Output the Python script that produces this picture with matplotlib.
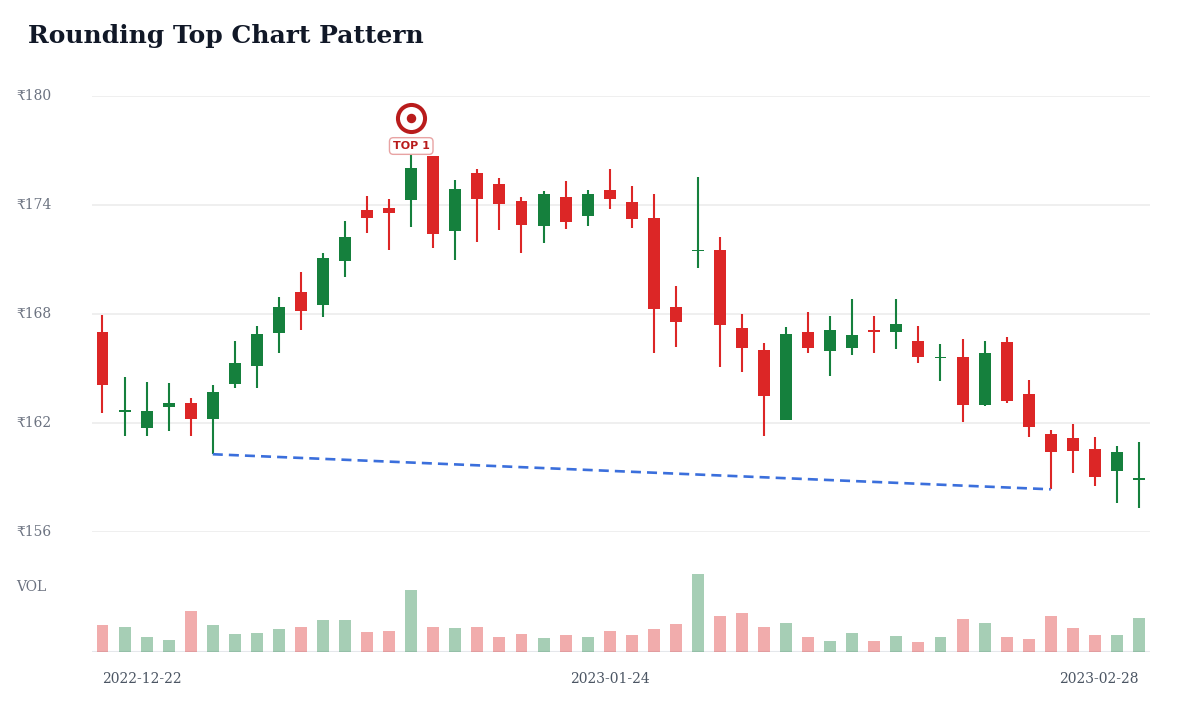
import numpy as np
import pandas as pd
import matplotlib
matplotlib.use("Agg")
import matplotlib.pyplot as plt

# OHLC, one entry per trading day
opens = [167.0, 162.6, 161.7, 162.87, 163.1, 162.22, 164.13, 165.12, 166.97, 169.23,
         168.5, 170.94, 173.74, 173.85, 174.28, 176.72, 172.59, 175.78, 175.14, 174.22,
         172.86, 174.42, 173.38, 174.81, 174.17, 173.3, 168.41, 171.45, 171.52, 167.25,
         166.02, 162.17, 167.01, 165.98, 166.11, 167.05, 167.03, 166.52, 165.56, 165.62,
         162.97, 166.44, 163.58, 161.4, 161.16, 160.57, 159.34, 158.85]
closes = [164.1, 162.65, 162.66, 163.1, 162.22, 163.69, 165.29, 166.92, 168.39, 168.19,
          171.07, 172.22, 173.27, 173.56, 176.02, 172.41, 174.86, 174.33, 174.06, 172.9,
          174.62, 173.07, 174.6, 174.33, 173.25, 168.28, 167.58, 171.5, 167.38, 166.15,
          163.49, 166.88, 166.15, 167.1, 166.85, 167.0, 167.43, 165.64, 165.6, 162.99,
          165.87, 163.2, 161.8, 160.42, 160.48, 159.01, 160.39, 158.9]
highs = [167.93, 164.52, 164.28, 164.22, 163.4, 164.1, 166.52, 167.34, 168.95, 170.31,
         171.38, 173.12, 174.48, 174.33, 176.75, 176.72, 175.38, 175.97, 175.47, 174.46,
         174.75, 175.3, 174.81, 176.0, 175.05, 174.59, 169.56, 175.54, 172.22, 167.98,
         166.39, 167.3, 168.09, 167.89, 168.81, 167.89, 168.81, 167.36, 166.33, 166.61,
         166.52, 166.72, 164.37, 161.62, 161.95, 161.21, 160.74, 160.98]
lows = [162.54, 161.29, 161.29, 161.55, 161.29, 160.28, 163.91, 163.91, 165.87, 167.12,
        167.82, 170.06, 172.44, 171.52, 172.81, 171.62, 170.96, 171.95, 172.61, 171.38,
        171.89, 172.66, 172.86, 173.8, 172.75, 165.84, 166.2, 170.55, 165.1, 164.83,
        161.29, 162.17, 165.84, 164.61, 165.75, 165.84, 166.08, 165.32, 164.33, 162.04,
        162.92, 163.12, 161.25, 158.35, 159.23, 158.55, 157.58, 157.31]
volumes = [800, 750, 440, 360, 1230, 810, 540, 570, 690, 760,
           960, 960, 600, 630, 1860, 760, 710, 740, 450, 530,
           420, 520, 440, 620, 510, 690, 830, 2340, 1080, 1180,
           740, 870, 450, 330, 560, 340, 470, 310, 460, 980,
           870, 460, 390, 1070, 720, 500, 510, 1020]

# trading days (Republic Day holiday skipped)
dates = [d for d in pd.bdate_range("2022-12-22", "2023-02-28") if d != pd.Timestamp("2023-01-26")]

y_ticks = [156, 162, 168, 174, 180]
neckline_idx = [5, 43]
top_idx = 14

RED = "#dc2626"
GREEN = "#15803d"
GRID = "#eeeeee"
TXT = "#6b7280"
SERIF = ["DejaVu Serif", "DejaVu Sans"]

n = len(opens)
x = np.arange(n)
o = np.array(opens)
c = np.array(closes)
up = c >= o
colors = [GREEN if u else RED for u in up]

fig = plt.figure(figsize=(12, 7.2), dpi=100)
ax = fig.add_axes([92 / 1200, 1 - 532 / 720, 1058 / 1200, 436 / 720])
axv = fig.add_axes([92 / 1200, 1 - 652 / 720, 1058 / 1200, 87 / 720])

xlim = (-0.476, 47.5)
ax.set_xlim(*xlim)
ax.set_ylim(156, 180)

# price panel
for t in y_ticks:
    ax.axhline(t, color=GRID, lw=1.3, zorder=0)
ax.vlines(x, lows, highs, colors=colors, lw=1.5, zorder=2)
body_lo = np.minimum(o, c)
body_h = np.maximum(np.abs(c - o), 0.1)
ax.bar(x, body_h, bottom=body_lo, width=0.54, color=colors, zorder=3)

# neckline
ax.plot([x[neckline_idx[0]], x[neckline_idx[1]]],
        [lows[neckline_idx[0]], lows[neckline_idx[1]]],
        color="#3b6fdc", lw=1.9, linestyle=(0, (3.8, 2.3)), zorder=4)

# top marker, placed a fixed pixel distance above the high
ax.set_xlim(*xlim)
ax.set_ylim(156, 180)
mk = ax.transData.transform((x[top_idx], highs[top_idx]))
mk_y = ax.transData.inverted().transform((mk[0], mk[1] + 37))[1]
ax.plot(x[top_idx], mk_y, marker="o", ms=19.5, mfc="white", mec="#b91c1c",
        mew=2.9, zorder=6, clip_on=False)
ax.plot(x[top_idx], mk_y, marker="o", ms=5.8, color="#b91c1c", zorder=7, clip_on=False)
ax.annotate("TOP 1", xy=(x[top_idx], highs[top_idx]), xytext=(0, 6.5),
            textcoords="offset points", ha="center", va="center",
            fontsize=8, fontweight="bold", color="#b91c1c", family="DejaVu Sans",
            bbox=dict(boxstyle="round,pad=0.3,rounding_size=0.35", fc="white",
                      ec="#e8a3a3", lw=1.0), zorder=8)

ax.axis("off")

for t in y_ticks:
    fig.text(16 / 1200, ax.transData.transform((0, t))[1] / 720, f"₹{t}",
             ha="left", va="center", fontsize=10, color=TXT, family=SERIF)

# volume panel
vol_colors = [GREEN if u else RED for u in up]
axv.bar(x, volumes, width=0.54, color=vol_colors, alpha=0.38, zorder=2)
axv.axhline(0, color="#e5e7eb", lw=1.5, zorder=1)
axv.set_xlim(*xlim)
axv.set_ylim(0, max(volumes) * 87 / 78)
axv.axis("off")
fig.text(16 / 1200, 1 - 587 / 720, "VOL", ha="left", va="center",
         fontsize=10, color=TXT, family=SERIF)

# date labels
for idx, ha in [(0, "left"), (23, "center"), (n - 1, "right")]:
    px = axv.transData.transform((x[idx], 0))[0]
    fig.text(px / 1200, 1 - 679 / 720, dates[idx].strftime("%Y-%m-%d"),
             ha=ha, va="center", fontsize=10, color="#4b5563", family=SERIF)

fig.text(28 / 1200, 1 - 36 / 720, "Rounding Top Chart Pattern", ha="left", va="center",
         fontsize=18, fontweight="bold", color="#111827", family="DejaVu Serif")

fig.savefig("out.png", dpi=100, facecolor="white")
